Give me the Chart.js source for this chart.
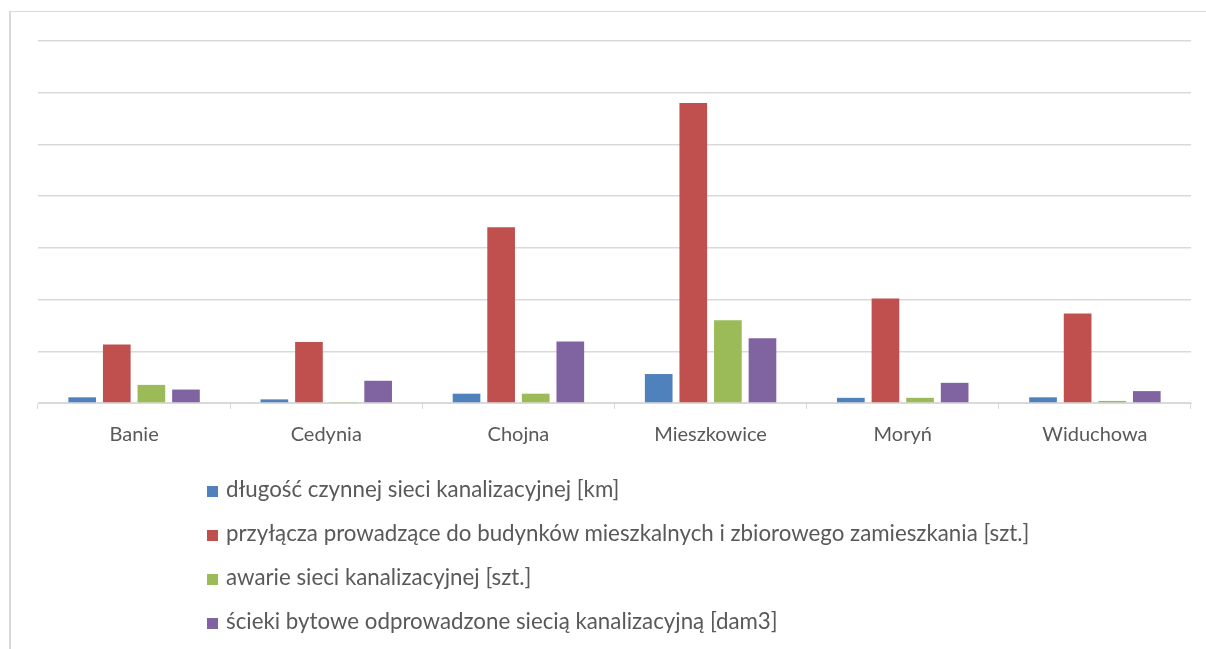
<!DOCTYPE html>
<html lang="pl">
<head>
<meta charset="utf-8">
<script src="https://cdn.jsdelivr.net/npm/chart.js@4/dist/chart.umd.min.js"></script>
<style>
  html, body { margin: 0; padding: 0; background: #fff; }
  #wrap { position: relative; width: 1206px; height: 649px; overflow: hidden; }
  #frame { position: absolute; left: 9px; top: 11px; right: -5px; bottom: -5px;
           border-left: 2px solid #d9d9d9; border-top: 1px solid #d9d9d9; }
  canvas { position: absolute; left: 0; top: 0; }
  #legend { position: absolute; left: 207px; top: 467px; font-family: Lato, sans-serif;
            font-size: 22.3px; color: #595959; }
  #legend div { height: 44px; line-height: 44px; white-space: nowrap; }
  #legend span.box { display: inline-block; width: 11px; height: 11px; margin-right: 8px; }
</style>
</head>
<body>
<div id="wrap">
  <div id="frame"></div>
  <canvas id="chart" width="1206" height="649"></canvas>
  <div id="legend"></div>
</div>
<script>
const categories = ["Banie", "Cedynia", "Chojna", "Mieszkowice", "Moryń", "Widuchowa"];

// values (one grid step = 100)
const dlugoscSieci = [11, 7, 18, 56, 10, 11];
const przylacza = [113, 118, 340, 580, 202, 173];
const awarie = [35, 1, 18, 160, 10, 4];
const scieki = [26, 43, 119, 125, 39, 23];

const seriesNames = [
  "długość czynnej sieci kanalizacyjnej [km]",
  "przyłącza prowadzące do budynków mieszkalnych i zbiorowego zamieszkania [szt.]",
  "awarie sieci kanalizacyjnej [szt.]",
  "ścieki bytowe odprowadzone siecią kanalizacyjną [dam3]",
];
const colors = ["#4f81bd", "#c0504d", "#9bbb59", "#8064a2"];

const ctx = document.getElementById("chart").getContext("2d");
const chart = new Chart(ctx, {
  type: "bar",
  data: {
    labels: categories,
    datasets: [dlugoscSieci, przylacza, awarie, scieki].map((d, i) => ({
      label: seriesNames[i],
      data: d,
      backgroundColor: colors[i],
      categoryPercentage: 0.72,
      barPercentage: 0.8,
    })),
  },
  options: {
    responsive: false,
    animation: false,
    layout: { padding: { left: 38, right: 15, top: 41, bottom: 188 } },
    plugins: { legend: { display: false }, tooltip: { enabled: false } },
    scales: {
      x: {
        grid: { drawOnChartArea: false, color: "#d9d9d9", tickLength: 6, offset: true },
        border: { color: "#d9d9d9", width: 1 },
        ticks: { color: "#595959", font: { family: "Lato", size: 20 }, padding: 14 },
      },
      y: {
        min: 0,
        max: 700,
        ticks: { display: false, stepSize: 100 },
        grid: { color: "#d9d9d9", lineWidth: 1.5, drawTicks: false },
        border: { display: false },
      },
    },
  },
});

// legend, one item per line
const legend = document.getElementById("legend");
chart.data.datasets.forEach((ds) => {
  const row = document.createElement("div");
  const box = document.createElement("span");
  box.className = "box";
  box.style.background = ds.backgroundColor;
  row.appendChild(box);
  row.appendChild(document.createTextNode(ds.label));
  legend.appendChild(row);
});
</script>
</body>
</html>
